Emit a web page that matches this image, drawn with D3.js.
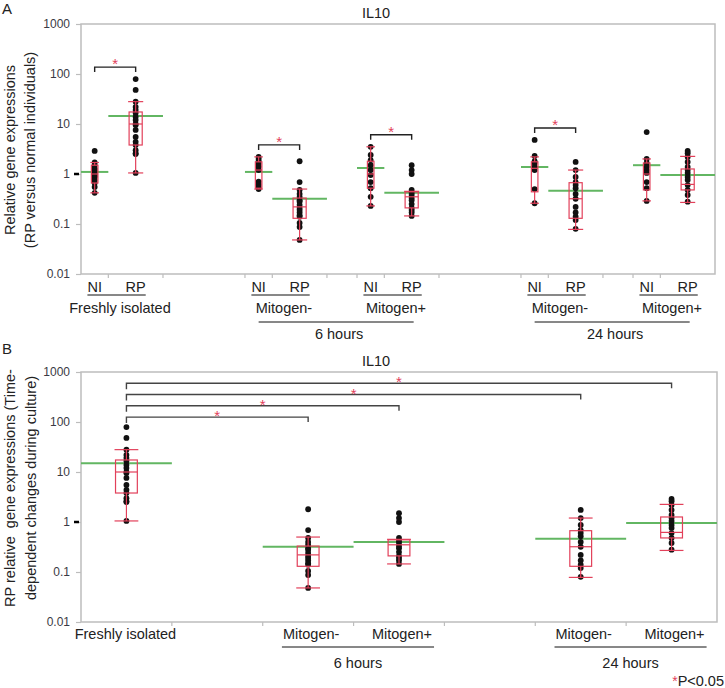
<!DOCTYPE html>
<html><head><meta charset="utf-8">
<script src="https://cdn.jsdelivr.net/npm/d3@7"></script>
<style>body{margin:0;background:#fff}svg{display:block;font-family:"Liberation Sans",Arial,sans-serif}</style>
</head><body><svg id="c" width="725" height="688"></svg>
<script>
// ---------- DATA ----------
const gene = "IL10";
const yTicks = [0.01, 0.1, 1, 10, 100, 1000];
const yTickLabels = ["0.01", "0.1", "1", "10", "100", "1000"];

// Panel A groups
const groupA = ["NI","RP","NI","RP","NI","RP","NI","RP","NI","RP"];
const condA  = ["Freshly isolated","Freshly isolated","Mitogen-","Mitogen-","Mitogen+","Mitogen+","Mitogen-","Mitogen-","Mitogen+","Mitogen+"];
const timeA  = ["","","6 hours","6 hours","6 hours","6 hours","24 hours","24 hours","24 hours","24 hours"];
const pointsA = [
  [2.9, 1.7, 1.5, 1.3, 1.2, 1.1, 1.0, 0.95, 0.9, 0.85, 0.75, 0.66, 0.55, 0.42],
  [79, 48, 28, 22, 19, 16.6, 13.8, 12, 10, 9.5, 7.6, 5.5, 4.4, 3.8, 3.0, 2.6, 2.5, 1.05],
  [2.2, 2.0, 1.8, 1.6, 1.4, 1.2, 0.7, 0.62, 0.55, 0.5],
  [1.8, 0.69, 0.48, 0.4, 0.35, 0.3, 0.28, 0.24, 0.21, 0.19, 0.17, 0.15, 0.14, 0.105, 0.087, 0.048],
  [3.5, 2.4, 1.9, 1.5, 1.2, 0.95, 0.69, 0.52, 0.35, 0.23],
  [1.5, 1.2, 1.0, 0.48, 0.42, 0.38, 0.33, 0.3, 0.25, 0.21, 0.19, 0.17, 0.145],
  [4.8, 2.3, 1.8, 1.66, 1.38, 1.2, 0.5, 0.26],
  [1.74, 1.2, 0.87, 0.69, 0.6, 0.52, 0.4, 0.32, 0.22, 0.17, 0.14, 0.12, 0.08],
  [6.9, 2.0, 1.66, 1.38, 1.2, 1.05, 0.69, 0.52, 0.29],
  [2.9, 2.6, 2.2, 1.74, 1.38, 1.2, 1.05, 0.87, 0.76, 0.6, 0.48, 0.38, 0.28]
];
const meansA = [1.1, 14.5, 1.1, 0.32, 1.32, 0.42, 1.38, 0.46, 1.5, 0.95];
// [lower whisker, q1, median, q3, upper whisker]
const boxesA = [
  [0.42, 0.66, 1.0, 1.5, 1.7],
  [1.05, 3.8, 10, 17.4, 28],
  [0.5, 0.52, 1.2, 1.75, 2.2],
  [0.048, 0.13, 0.22, 0.33, 0.5],
  [0.23, 0.52, 1.0, 1.8, 3.5],
  [0.145, 0.21, 0.35, 0.44, 0.45],
  [0.26, 0.44, 1.3, 1.75, 2.2],
  [0.078, 0.13, 0.32, 0.67, 1.2],
  [0.29, 0.48, 1.0, 1.66, 2.0],
  [0.27, 0.48, 0.62, 1.26, 2.25]
];
const sigA = [[0,1],[2,3],[4,5],[6,7]];

// Panel B groups (RP only, time-dependent changes)
const condB = ["Freshly isolated","Mitogen-","Mitogen+","Mitogen-","Mitogen+"];
const timeB = ["","6 hours","6 hours","24 hours","24 hours"];
const pointsB = [pointsA[1], pointsA[3], pointsA[5], pointsA[7], pointsA[9]];
const meansB = [15, 0.32, 0.40, 0.46, 0.95];
const boxesB = [boxesA[1], boxesA[3], boxesA[5], boxesA[7], boxesA[9]];
const sigB = [[0,1],[0,2],[0,3],[0,4]];

// ---------- STYLE / LAYOUT ----------
const FONT = 14.5;
const RED = "#e2405a", GREEN = "#62b662", FRAME = "#bdbdbd";
const svg = d3.select("#c");

function drawPanel(o) {
  const g = svg.append("g");
  const y = d3.scaleLog().domain([0.01, 1000]).range([o.bottom, o.top]);
  const total = d3.sum(o.slots, s => s.w);
  const x = d3.scaleLinear().domain([0, total]).range([o.left, o.right]);
  let cum = 0; const geo = [];
  o.slots.forEach(s => { geo.push({g: s.g, x0: x(cum), x1: x(cum + s.w)}); cum += s.w; });
  const grp = [];
  geo.forEach(s => { if (s.g !== undefined) grp[s.g] = {x0: s.x0, x1: s.x1, cx: (s.x0 + s.x1) / 2}; });

  g.append("rect").attr("x", o.left).attr("y", o.top).attr("width", o.right - o.left).attr("height", o.bottom - o.top)
    .attr("fill", "none").attr("stroke", FRAME).attr("stroke-width", 1.5);
  geo.slice(0, -1).forEach(s => {
    g.append("line").attr("x1", s.x1).attr("x2", s.x1).attr("y1", o.bottom).attr("y2", o.bottom + 4)
      .attr("stroke", FRAME).attr("stroke-width", 1.2);
  });
  const ax = g.append("g").attr("transform", `translate(${o.left},0)`)
    .call(d3.axisLeft(y).tickValues(yTicks).tickFormat((d, i) => yTickLabels[i]).tickSize(5).tickPadding(6));
  ax.select(".domain").remove();
  ax.selectAll(".tick line").attr("stroke", FRAME).attr("stroke-width", 1.2);
  ax.selectAll(".tick text").attr("font-size", 12).attr("fill", "#3a3a44").attr("font-family", "Liberation Sans, Arial, sans-serif");
  g.append("line").attr("x1", o.left - 7).attr("x2", o.left - 2).attr("y1", y(1)).attr("y2", y(1))
    .attr("stroke", "#000").attr("stroke-width", 2.5);

  g.append("text").attr("x", 376).attr("y", o.top - 6).attr("text-anchor", "middle").attr("font-size", FONT).attr("fill", "#222").text(gene);
  g.append("text").attr("x", 2).attr("y", o.letterY).attr("font-size", 15).attr("fill", "#222").text(o.letter);
  const yt = g.append("text").attr("transform", `translate(0,${o.yTitleY}) rotate(-90)`)
    .attr("text-anchor", "middle").attr("font-size", FONT).attr("fill", "#222").style("white-space", "pre");
  o.yTitle.forEach((t, i) => yt.append("tspan").attr("x", 0).attr("y", o.yTitleX[i]).text(t));

  o.means.forEach((m, i) => {
    g.append("line").attr("x1", grp[i].x0).attr("x2", grp[i].x1).attr("y1", y(m)).attr("y2", y(m))
      .attr("stroke", GREEN).attr("stroke-width", 2);
  });
  o.points.forEach((pts, i) => {
    g.selectAll(null).data(pts).join("circle").attr("cx", grp[i].cx).attr("cy", d => y(d)).attr("r", 2.9).attr("fill", "#111");
  });
  o.boxes.forEach((b, i) => {
    const bw = (grp[i].x1 - grp[i].x0) * 0.24, cx = grp[i].cx;
    const bg = g.append("g").attr("stroke", RED).attr("stroke-width", 1.2).attr("fill", "none");
    bg.append("line").attr("x1", cx).attr("x2", cx).attr("y1", y(b[4])).attr("y2", y(b[3]));
    bg.append("line").attr("x1", cx).attr("x2", cx).attr("y1", y(b[1])).attr("y2", y(b[0]));
    bg.append("rect").attr("x", cx - bw / 2).attr("width", bw).attr("y", y(b[3])).attr("height", y(b[1]) - y(b[3]));
    bg.append("line").attr("x1", cx - bw / 2).attr("x2", cx + bw / 2).attr("y1", y(b[2])).attr("y2", y(b[2]));
    [b[0], b[4]].forEach(v => bg.append("line").attr("x1", cx - bw / 2 - 1).attr("x2", cx + bw / 2 + 1).attr("y1", y(v)).attr("y2", y(v)));
  });
  return {g, y, grp};
}

// ---------- PANEL A ----------
const slotsA = [{g:0,w:1},{g:1,w:2},{w:3},{g:2,w:1},{g:3,w:2},{w:1.1},{g:4,w:1},{g:5,w:2},{w:3},{g:6,w:1},{g:7,w:2},{w:1.1},{g:8,w:1},{g:9,w:2}];
const A = drawPanel({
  top: 24, bottom: 274, left: 81, right: 715, slots: slotsA, letter: "A", letterY: 14,
  yTitle: ["Relative gene expressions", "(RP versus normal individuals)"], yTitleX: [15, 35], yTitleY: 150,
  means: meansA, points: pointsA, boxes: boxesA
});
for (let i = 0; i < groupA.length; i += 2) {
  const gA = A.g;
  const t1 = gA.append("text").attr("x", A.grp[i].cx).attr("y", 292).attr("text-anchor", "middle").attr("font-size", FONT).attr("fill", "#222").text(groupA[i]);
  const t2 = gA.append("text").attr("x", A.grp[i+1].cx).attr("y", 292).attr("text-anchor", "middle").attr("font-size", FONT).attr("fill", "#222").text(groupA[i+1]);
  const b1 = t1.node().getBBox(), b2 = t2.node().getBBox();
  gA.append("line").attr("x1", b1.x).attr("x2", b2.x + b2.width).attr("y1", 295).attr("y2", 295).attr("stroke", "#111").attr("stroke-width", 1);
  gA.append("text").attr("x", (A.grp[i].x0 + A.grp[i+1].x1) / 2 - 2).attr("y", 313).attr("text-anchor", "middle").attr("font-size", FONT).attr("fill", "#222").text(condA[i]);
}
["6 hours", "24 hours"].forEach(t => {
  const idx = timeA.map((d, i) => d === t ? i : -1).filter(i => i >= 0);
  const xa = A.grp[idx[0]].cx, xb = A.grp[idx[idx.length - 1]].cx + 2;
  A.g.append("line").attr("x1", xa).attr("x2", xb).attr("y1", 322).attr("y2", 322).attr("stroke", "#111").attr("stroke-width", 1);
  A.g.append("text").attr("x", (xa + xb) / 2 + 3).attr("y", 339).attr("text-anchor", "middle").attr("font-size", FONT).attr("fill", "#222").text(t);
});
sigA.forEach(([a, b]) => {
  const ly = A.y(d3.max(pointsA[a].concat(pointsA[b]))) - 12;
  const xa = A.grp[a].cx, xb = A.grp[b].cx;
  A.g.append("path").attr("d", `M${xa},${ly + 5}V${ly}H${xb}V${ly + 5}`).attr("fill", "none").attr("stroke", "#222").attr("stroke-width", 1.4);
  A.g.append("text").attr("x", (xa + xb) / 2).attr("y", ly + 2).attr("text-anchor", "middle").attr("font-size", 15).attr("fill", RED).text("*");
});

// ---------- PANEL B ----------
const slotsB = [{g:0,w:1},{w:1},{g:1,w:1},{g:2,w:1},{w:1},{g:3,w:1},{g:4,w:1}];
const B = drawPanel({
  top: 372, bottom: 622, left: 81, right: 717, slots: slotsB, letter: "B", letterY: 354,
  yTitle: ["RP relative  gene expressions (Time-", "dependent changes during culture)"], yTitleX: [15, 36], yTitleY: 488,
  means: meansB, points: pointsB, boxes: boxesB
});
const labB = condB.map((c, i) => B.g.append("text").attr("x", B.grp[i].cx + (i ? 3 : -1)).attr("y", 639)
  .attr("text-anchor", "middle").attr("font-size", FONT).attr("fill", "#222").text(c));
["6 hours", "24 hours"].forEach(t => {
  const idx = timeB.map((d, i) => d === t ? i : -1).filter(i => i >= 0);
  const b1 = labB[idx[0]].node().getBBox(), b2 = labB[idx[idx.length - 1]].node().getBBox();
  const xa = b1.x - 1, xb = b2.x + b2.width + 2;
  B.g.append("line").attr("x1", xa).attr("x2", xb).attr("y1", 647).attr("y2", 647).attr("stroke", "#111").attr("stroke-width", 1);
  B.g.append("text").attr("x", (xa + xb) / 2).attr("y", 668).attr("text-anchor", "middle").attr("font-size", FONT).attr("fill", "#222").text(t);
});
sigB.forEach(([a, b], k) => {
  const ly = B.y(d3.max(pointsB[a])) - 10 - k * 11.3;
  const xa = B.grp[a].cx, xb = B.grp[b].cx;
  B.g.append("path").attr("d", `M${xa},${ly + 6}V${ly}H${xb}V${ly + 5}`).attr("fill", "none").attr("stroke", "#444").attr("stroke-width", 1.4);
  B.g.append("text").attr("x", (xa + xb) / 2).attr("y", ly + 4).attr("text-anchor", "middle").attr("font-size", 15).attr("fill", RED).text("*");
});
const note = svg.append("text").attr("x", 724).attr("y", 686).attr("text-anchor", "end").attr("font-size", FONT).attr("fill", "#222");
note.append("tspan").attr("fill", RED).attr("font-size", 14).text("*");
note.append("tspan").text("P<0.05");
</script></body></html>
